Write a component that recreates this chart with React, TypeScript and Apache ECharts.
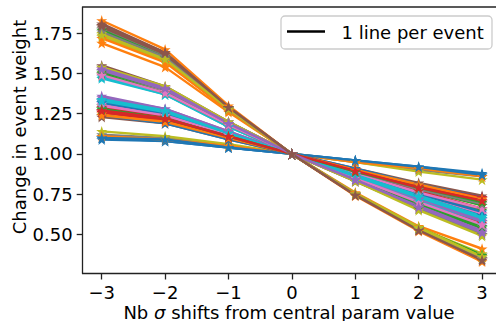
import { useEffect, useRef } from "react";
import * as echarts from "echarts";

// x positions: number of sigma shifts
const shifts = [-3, -2, -1, 0, 1, 2, 3];
const xTickValues = [-3, -2, -1, 0, 1, 2, 3];
const yTickValues = [0.5, 0.75, 1.0, 1.25, 1.5, 1.75];
const legendLabel = "1 line per event";
const yTitle = "Change in event weight";

const palette = [
  "#1f77b4", "#ff7f0e", "#2ca02c", "#d62728", "#9467bd",
  "#8c564b", "#e377c2", "#7f7f7f", "#bcbd22", "#17becf",
];

// event weights at shifts -3..3 (one row per event, plotted in order)
const eventWeights: number[][] = [
  [1.09, 1.08, 1.04, 1, 0.96, 0.92, 0.88],
  [1.69, 1.54, 1.26, 1, 0.76, 0.55, 0.41],
  [1.30, 1.24, 1.12, 1, 0.88, 0.76, 0.65],
  [1.27, 1.22, 1.11, 1, 0.90, 0.79, 0.70],
  [1.52, 1.40, 1.19, 1, 0.84, 0.68, 0.53],
  [1.80, 1.62, 1.29, 1, 0.75, 0.54, 0.37],
  [1.50, 1.39, 1.18, 1, 0.85, 0.69, 0.55],
  [1.12, 1.10, 1.05, 1, 0.95, 0.90, 0.86],
  [1.75, 1.60, 1.28, 1, 0.75, 0.54, 0.38],
  [1.47, 1.37, 1.17, 1, 0.85, 0.70, 0.56],
  [1.33, 1.26, 1.13, 1, 0.87, 0.74, 0.62],
  [1.25, 1.20, 1.10, 1, 0.90, 0.80, 0.71],
  [1.28, 1.23, 1.11, 1, 0.89, 0.78, 0.68],
  [1.29, 1.23, 1.12, 1, 0.89, 0.77, 0.66],
  [1.35, 1.28, 1.14, 1, 0.86, 0.72, 0.60],
  [1.55, 1.42, 1.20, 1, 0.83, 0.66, 0.50],
  [1.31, 1.25, 1.12, 1, 0.88, 0.75, 0.63],
  [1.78, 1.61, 1.28, 1, 0.75, 0.53, 0.36],
  [1.14, 1.11, 1.06, 1, 0.95, 0.89, 0.84],
  [1.32, 1.26, 1.13, 1, 0.87, 0.73, 0.61],
  [1.10, 1.08, 1.04, 1, 0.96, 0.91, 0.87],
  [1.11, 1.09, 1.05, 1, 0.95, 0.91, 0.86],
  [1.51, 1.40, 1.19, 1, 0.84, 0.68, 0.54],
  [1.49, 1.38, 1.18, 1, 0.85, 0.70, 0.57],
  [1.34, 1.27, 1.13, 1, 0.86, 0.73, 0.59],
  [1.23, 1.19, 1.09, 1, 0.91, 0.82, 0.74],
  [1.53, 1.41, 1.19, 1, 0.84, 0.67, 0.52],
  [1.54, 1.41, 1.20, 1, 0.83, 0.66, 0.50],
  [1.54, 1.42, 1.20, 1, 0.83, 0.65, 0.49],
  [1.48, 1.37, 1.17, 1, 0.86, 0.71, 0.58],
  [1.32, 1.25, 1.12, 1, 0.88, 0.75, 0.64],
  [1.83, 1.65, 1.30, 1, 0.74, 0.52, 0.33],
  [1.77, 1.60, 1.28, 1, 0.75, 0.54, 0.37],
  [1.26, 1.21, 1.10, 1, 0.90, 0.80, 0.72],
  [1.52, 1.40, 1.19, 1, 0.84, 0.68, 0.52],
  [1.81, 1.63, 1.29, 1, 0.745, 0.53, 0.35],
  [1.30, 1.24, 1.12, 1, 0.88, 0.76, 0.66],
  [1.27, 1.22, 1.11, 1, 0.89, 0.78, 0.69],
  [1.73, 1.58, 1.27, 1, 0.755, 0.545, 0.36],
  [1.33, 1.26, 1.13, 1, 0.87, 0.74, 0.61],
  [1.24, 1.19, 1.09, 1, 0.91, 0.81, 0.73],
  [1.72, 1.57, 1.27, 1, 0.75, 0.53, 0.35],
  [1.50, 1.38, 1.18, 1, 0.85, 0.69, 0.55],
  [1.26, 1.21, 1.10, 1, 0.90, 0.80, 0.73],
  [1.36, 1.28, 1.14, 1, 0.86, 0.72, 0.58],
  [1.79, 1.62, 1.29, 1, 0.745, 0.53, 0.34],
  [1.49, 1.38, 1.18, 1, 0.85, 0.70, 0.56],
  [1.76, 1.60, 1.28, 1, 0.75, 0.535, 0.35],
  [1.74, 1.59, 1.28, 1, 0.75, 0.54, 0.36],
  [1.34, 1.27, 1.13, 1, 0.86, 0.73, 0.60],
  [1.10, 1.09, 1.04, 1, 0.96, 0.92, 0.87],
  [1.24, 1.20, 1.10, 1, 0.90, 0.81, 0.72],
  [1.28, 1.22, 1.11, 1, 0.89, 0.79, 0.70],
  [1.27, 1.22, 1.11, 1, 0.895, 0.79, 0.71],
  [1.53, 1.41, 1.19, 1, 0.84, 0.67, 0.51],
  [1.80, 1.63, 1.29, 1, 0.745, 0.525, 0.34],
];

const FONT = "DejaVu Sans";
const STAR =
  "path://M50,0 L61.2,34.5 L97.6,34.5 L68.2,55.9 L79.4,90.5 L50,69.1 L20.6,90.5 L31.8,55.9 L2.4,34.5 L38.8,34.5 Z";

const fmtMinus = (v: number) => String(v).replace("-", "\u2212");

export default function App() {
  const ref = useRef<HTMLDivElement>(null);

  useEffect(() => {
    document.body.style.margin = "0";
    if (!ref.current) return;
    const chart = echarts.init(ref.current, null, { renderer: "svg" });

    const series = eventWeights.map((w, k) => ({
      type: "line" as const,
      name: "event " + (k + 1),
      data: shifts.map((s, i) => [s, w[i]]),
      symbol: STAR,
      symbolSize: 11,
      showSymbol: true,
      lineStyle: { width: 2.4 },
      emphasis: { disabled: true },
      silent: true,
      clip: false,
    }));

    const spine = { color: "#222", width: 1.3 };

    chart.setOption({
      animation: false,
      color: palette,
      grid: {
        left: 82.7,
        right: 0,
        top: 7,
        bottom: 47.5,
        show: false,
      },
      xAxis: {
        type: "value",
        min: -3.3,
        max: 3.22,
        axisLine: { show: true, onZero: false, lineStyle: spine },
        axisTick: {
          show: true,
          length: 6,
          lineStyle: spine,
          customValues: xTickValues,
        },
        axisLabel: {
          customValues: xTickValues,
          formatter: (v: number) => fmtMinus(v),
          fontFamily: FONT,
          fontSize: 18,
          color: "#000",
          margin: 10,
        },
        splitLine: { show: false },
      },
      yAxis: {
        type: "value",
        min: 0.256,
        max: 1.914,
        axisLine: { show: true, onZero: false, lineStyle: spine },
        axisTick: {
          show: true,
          length: 6,
          lineStyle: spine,
          customValues: yTickValues,
        },
        axisLabel: {
          customValues: yTickValues,
          formatter: (v: number) => v.toFixed(2),
          fontFamily: FONT,
          fontSize: 18,
          color: "#000",
          margin: 10,
        },
        splitLine: { show: false },
      },
      series,
      graphic: [
        {
          type: "line",
          z: 50,
          shape: { x1: 82.7, y1: 7, x2: 496, y2: 7 },
          style: { stroke: "#222", lineWidth: 1.3 },
        },
        {
          type: "text",
          x: 19,
          y: 127,
          rotation: Math.PI / 2,
          style: {
            text: yTitle,
            fontFamily: FONT,
            fontSize: 18,
            fill: "#000",
            align: "center",
            verticalAlign: "middle",
          },
        },
        {
          type: "text",
          x: 289,
          y: 312,
          style: {
            text: "Nb {i|\u03c3} shifts from central param value",
            fontFamily: FONT,
            fontSize: 18,
            fill: "#000",
            align: "center",
            verticalAlign: "middle",
            rich: {
              i: { fontFamily: FONT, fontSize: 18, fontStyle: "italic", fill: "#000" },
            },
          },
        },
        {
          type: "rect",
          z: 100,
          shape: { x: 281, y: 16, width: 211, height: 33, r: 4 },
          style: { fill: "rgba(255,255,255,0.8)", stroke: "#cccccc", lineWidth: 1.3 },
        },
        {
          type: "line",
          z: 101,
          shape: { x1: 287, y1: 31.5, x2: 325, y2: 31.5 },
          style: { stroke: "#000", lineWidth: 2.4 },
        },
        {
          type: "text",
          z: 101,
          x: 341.5,
          y: 32,
          style: {
            text: legendLabel,
            fontFamily: FONT,
            fontSize: 18,
            fill: "#000",
            align: "left",
            verticalAlign: "middle",
          },
        },
      ],
    });

    return () => chart.dispose();
  }, []);

  return (
    <div
      ref={ref}
      style={{ position: "absolute", left: 0, top: 0, width: 496, height: 321 }}
    />
  );
}
